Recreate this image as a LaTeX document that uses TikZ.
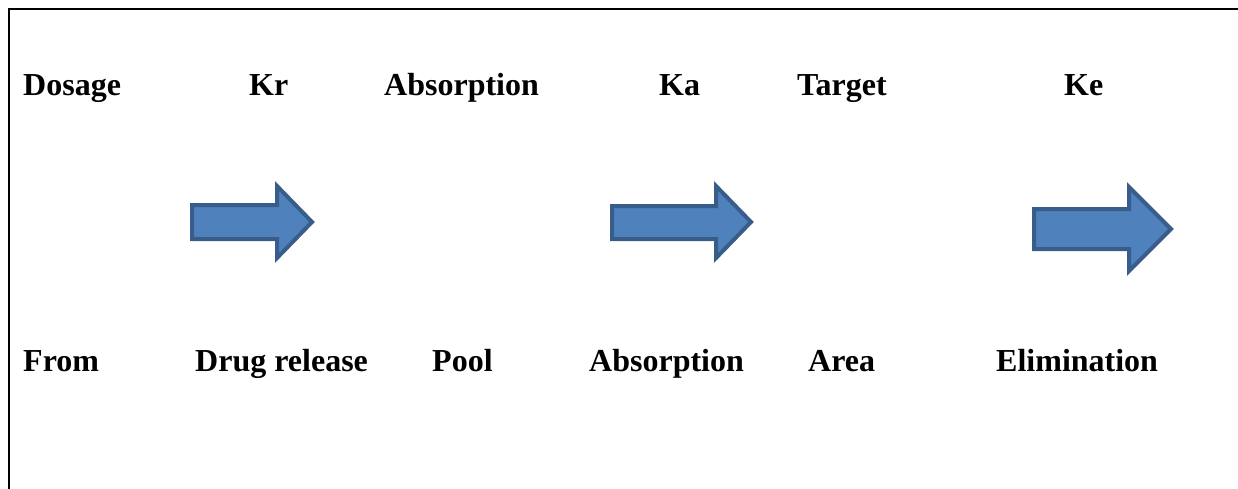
\documentclass[tikz,border=0pt]{standalone}
\usepackage{fontspec}
\setmainfont{Liberation Serif}
\definecolor{arrfill}{HTML}{4F81BD}
\definecolor{arrdraw}{HTML}{385D8A}
\begin{document}
\begin{tikzpicture}[x=1pt,y=-1pt,
  lbl/.style={anchor=base west,inner sep=0pt,font=\fontsize{32}{36}\selectfont\bfseries},
  blockarrow/.style={fill=arrfill,draw=arrdraw,line width=4pt,line join=miter}]
\useasboundingbox (0,0) rectangle (1238,489);
\begin{scope}
\clip (0,0) rectangle (1238,489);
\draw[line width=2pt] (9,9) rectangle (1260,520);
\end{scope}
% top row
\node[lbl] (dosage) at (23,96) {Dosage};
\node[lbl] (kr) at (249,96) {Kr};
\node[lbl] (abs1) at (384,96) {Absorption};
\node[lbl] (ka) at (659,96) {Ka};
\node[lbl] (target) at (797,96) {Target};
\node[lbl] (ke) at (1064,96) {Ke};
% bottom row
\node[lbl] (from) at (23,371) {From};
\node[lbl] (drug) at (195,371) {Drug release};
\node[lbl] (pool) at (432,371) {Pool};
\node[lbl] (abs2) at (589,371) {Absorption};
\node[lbl] (area) at (808,371) {Area};
\node[lbl] (elim) at (996,371) {Elimination};
% block arrows
\draw[blockarrow] (192,205) -- (277,205) -- (277,186) -- (312,222) -- (277,258) -- (277,239) -- (192,239) -- cycle;
\draw[blockarrow] (612,206) -- (716,206) -- (716,186) -- (751,222) -- (716,258) -- (716,239) -- (612,239) -- cycle;
\draw[blockarrow] (1034,209) -- (1129,209) -- (1129,187) -- (1171,229) -- (1129,271) -- (1129,249) -- (1034,249) -- cycle;
\end{tikzpicture}
\end{document}
